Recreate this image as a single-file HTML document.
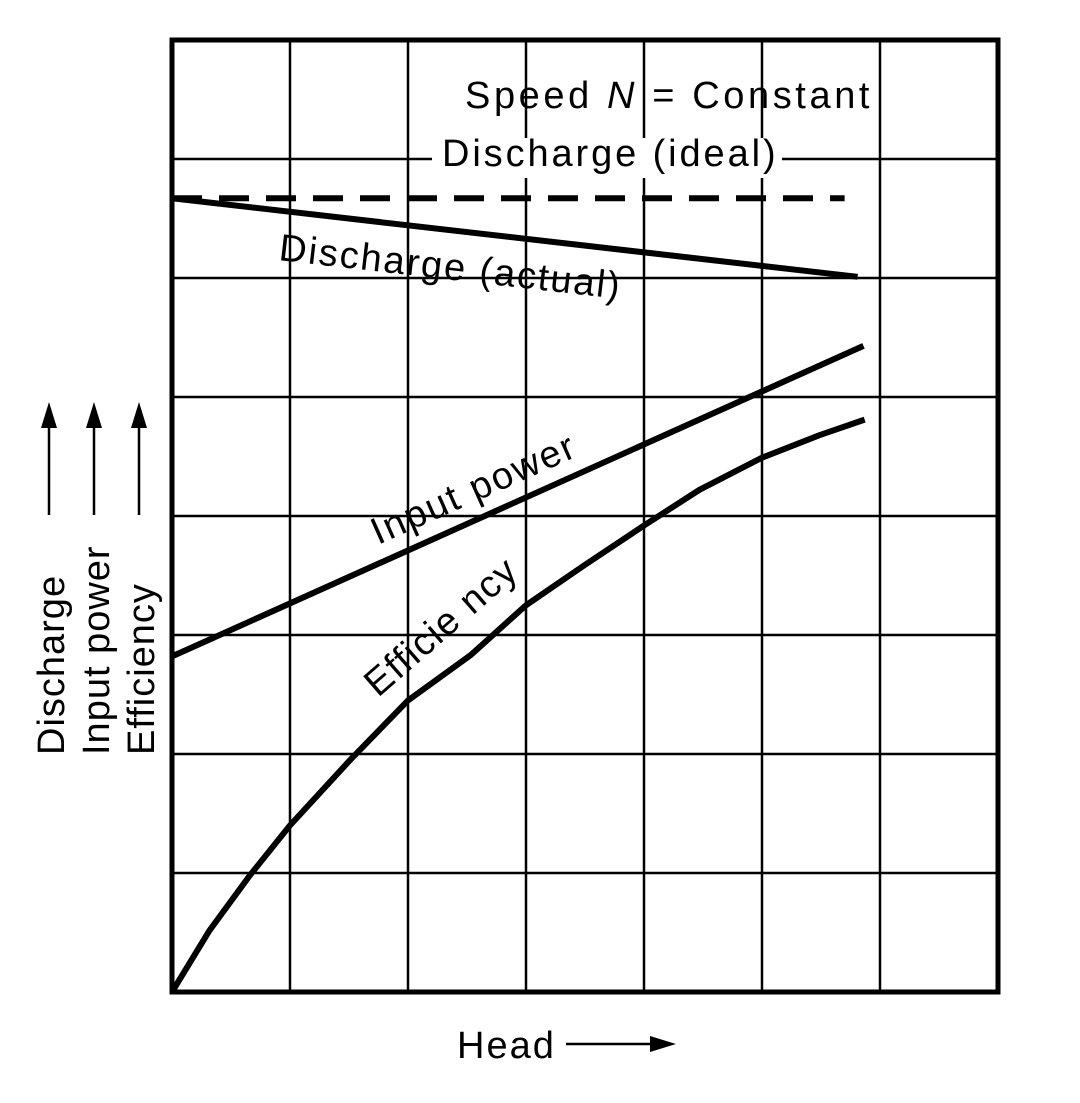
<!DOCTYPE html>
<html><head><meta charset="utf-8"><style>
html,body{margin:0;padding:0;background:#fff;}
svg{display:block;font-family:"Liberation Sans",sans-serif;}
</style></head><body>
<svg id="chart" width="1080" height="1103" viewBox="0 0 1080 1103">
<g id="grid"></g>
<g id="series"></g>
<rect x="172" y="40" width="826" height="952" fill="none" stroke="#000" stroke-width="5"/>
<rect x="432" y="138" width="350" height="40" fill="#fff"/>
<text x="465" y="108" font-size="38" letter-spacing="3.6">Speed <tspan font-style="italic">N</tspan> = Constant</text>
<text x="442" y="166" font-size="38" letter-spacing="2.9">Discharge (ideal)</text>
<text transform="translate(278,260) rotate(6.5)" font-size="38" letter-spacing="2">Discharge (actual)</text>
<text transform="translate(378,545) rotate(-24)" font-size="38" letter-spacing="2">Input power</text>
<text transform="translate(378,698) rotate(-41)" font-size="38" letter-spacing="1.5">Efficie ncy</text>
<text transform="translate(64,755) rotate(-90)" font-size="38" letter-spacing="1">Discharge</text>
<text transform="translate(109,755) rotate(-90)" font-size="38" letter-spacing="1">Input power</text>
<text transform="translate(154,755) rotate(-90)" font-size="38" letter-spacing="1">Efficiency</text>
<g stroke="#000" stroke-width="2.5">
<line x1="49" y1="515" x2="49" y2="420"/><line x1="94" y1="515" x2="94" y2="420"/><line x1="139" y1="515" x2="139" y2="420"/>
</g>
<g fill="#000">
<polygon points="49,402 41,428 57,428"/><polygon points="94,402 86,428 102,428"/><polygon points="139,402 131,428 147,428"/>
</g>
<text x="457" y="1058" font-size="38" letter-spacing="2">Head</text>
<line x1="566" y1="1044" x2="655" y2="1044" stroke="#000" stroke-width="2.5"/>
<polygon points="676,1044 650,1036 650,1052" fill="#000"/>
</svg>
<script>
const xCols = [1,2,3,4,5,6];
const yRows = [1,2,3,4,5,6,7];
const idealX = [0, 5.7];
const idealY = [6.67, 6.67];
const actualX = [0, 5.81];
const actualY = [6.67, 6.01];
const powerX = [0, 5.86];
const powerY = [2.82, 5.43];
const effX = [0, 0.32, 0.66, 1.0, 1.51, 2.0, 2.53, 3.0, 3.5, 4.0, 4.47, 5.0, 5.49, 5.87];
const effY = [0, 0.52, 0.98, 1.40, 1.95, 2.45, 2.83, 3.25, 3.59, 3.92, 4.22, 4.49, 4.68, 4.81];
const X0=172, X1=998, Y0=992, Y1=40, XMAX=7, YMAX=8;
function sx(v){return X0+(X1-X0)*v/XMAX;}
function sy(v){return Y0-(Y0-Y1)*v/YMAX;}
const NS='http://www.w3.org/2000/svg';
const grid=document.getElementById('grid');
xCols.forEach(c=>{const l=document.createElementNS(NS,'line');
l.setAttribute('x1',sx(c));l.setAttribute('x2',sx(c));l.setAttribute('y1',Y1);l.setAttribute('y2',Y0);
l.setAttribute('stroke','#000');l.setAttribute('stroke-width','2.5');


grid.appendChild(l);});
yRows.forEach(r=>{const l=document.createElementNS(NS,'line');
l.setAttribute('y1',sy(r));l.setAttribute('y2',sy(r));l.setAttribute('x1',X0);l.setAttribute('x2',X1);
l.setAttribute('stroke','#000');l.setAttribute('stroke-width','2.5');


grid.appendChild(l);});
const ser=document.getElementById('series');
function path(xs,ys,dash){const p=document.createElementNS(NS,'polyline');
p.setAttribute('points',xs.map((x,i)=>sx(x)+','+sy(ys[i])).join(' '));
p.setAttribute('fill','none');p.setAttribute('stroke','#000');p.setAttribute('stroke-width','6');
p.setAttribute('stroke-linejoin','round');
if(dash)p.setAttribute('stroke-dasharray',dash);
ser.appendChild(p);return p;}
let p;
p=path(idealX,idealY,'30 17');


p=path(actualX,actualY);


p=path(powerX,powerY);


p=path(effX,effY);


</script>
</body></html>
